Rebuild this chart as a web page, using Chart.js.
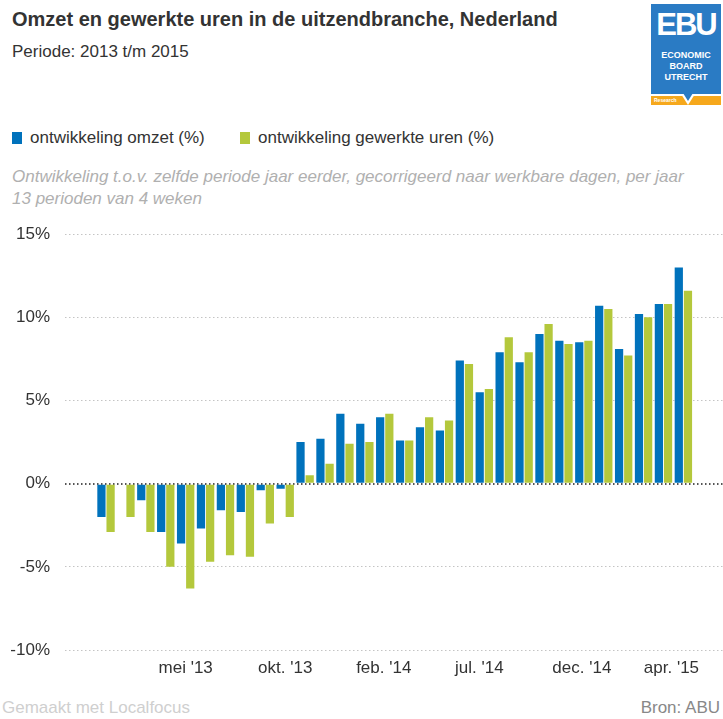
<!DOCTYPE html>
<html>
<head>
<meta charset="utf-8">
<script src="https://cdn.jsdelivr.net/npm/chart.js@4.4.0/dist/chart.umd.min.js"></script>
<style>
  body {
    margin: 0;
    width: 723px;
    height: 719px;
    background: #fff;
    position: relative;
    overflow: hidden;
    font-family: "Liberation Sans", Arial, sans-serif;
    color: #333;
  }
  .t { position: absolute; white-space: nowrap; line-height: 20px; }
  #title { left: 12px; top: 9px; font-size: 20px; font-weight: bold; }
  #period { left: 12px; top: 42px; font-size: 17px; }
  .sq { position: absolute; width: 10px; height: 12px; top: 132px; }
  .leg { top: 128px; font-size: 17px; }
  .note { left: 12px; font-size: 17px; font-style: italic; color: #b0b0b0; }
  #foot1 { left: 2px; top: 698px; font-size: 17px; color: #cfcfcf; }
  #foot2 { right: 3px; top: 698px; font-size: 17px; color: #888; }
  #chartBox { position: absolute; left: 0; top: 209px; width: 723px; height: 481px; }

  #logo { position: absolute; left: 651px; top: 4px; width: 70px; height: 100px; }
  #logo .blue { position: absolute; left: 0; top: 0; width: 70px; height: 90px; background: #2a7bc4; }
  #logo .orange { position: absolute; left: 0; top: 92px; width: 70px; height: 9px; background: #f6a81c; }
  #logo .big { position: absolute; left: 0; width: 70px; top: 6px; text-align: center; color: #fff;
               font-size: 31px; font-weight: bold; letter-spacing: -2px; line-height: 30px; }
  #logo .small { position: absolute; left: 0; width: 70px; text-align: center; color: #fff;
                 font-size: 9px; font-weight: bold; line-height: 10px; }
  #logo .res { position: absolute; left: 3px; top: 93px; color: #fff; font-size: 5px; font-weight: bold; line-height: 7px; }
  #logo .tailW { position: absolute; left: 30px; top: 90px; width: 0; height: 0;
                 border-left: 7px solid transparent; border-right: 7px solid transparent; border-top: 11px solid #fff; }
  #logo .tailB { position: absolute; left: 32px; top: 89px; width: 0; height: 0;
                 border-left: 5px solid transparent; border-right: 5px solid transparent; border-top: 8px solid #2a7bc4; }
</style>
</head>
<body>
<div class="t" id="title">Omzet en gewerkte uren in de uitzendbranche, Nederland</div>
<div class="t" id="period">Periode: 2013 t/m 2015</div>

<div id="logo">
  <div class="blue"></div>
  <div class="orange"></div>
  <div class="res">Research</div>
  <div class="tailW"></div>
  <div class="tailB"></div>
  <div class="big">EBU</div>
  <div class="small" style="top:46px">ECONOMIC</div>
  <div class="small" style="top:57px">BOARD</div>
  <div class="small" style="top:68px">UTRECHT</div>
</div>

<div class="sq" style="left:12px;background:#0072bc"></div>
<div class="t leg" style="left:30px">ontwikkeling omzet (%)</div>
<div class="sq" style="left:240px;background:#b4c83c"></div>
<div class="t leg" style="left:258px">ontwikkeling gewerkte uren (%)</div>

<div class="t note" style="top:167px">Ontwikkeling t.o.v. zelfde periode jaar eerder, gecorrigeerd naar werkbare dagen, per jaar</div>
<div class="t note" style="top:189px">13 perioden van 4 weken</div>

<div id="chartBox"><canvas id="chart"></canvas></div>

<div class="t" id="foot1">Gemaakt met Localfocus</div>
<div class="t" id="foot2">Bron: ABU</div>

<script>
// 4-weekly periods, 13 per year
const periods = [
  "2013 P1", "2013 P2", "2013 P3", "2013 P4", "2013 P5", "2013 P6", "2013 P7",
  "2013 P8", "2013 P9", "2013 P10", "2013 P11", "2013 P12", "2013 P13",
  "2014 P1", "2014 P2", "2014 P3", "2014 P4", "2014 P5", "2014 P6", "2014 P7",
  "2014 P8", "2014 P9", "2014 P10", "2014 P11", "2014 P12", "2014 P13",
  "2015 P1", "2015 P2", "2015 P3", "2015 P4",
];

const omzet = [
  -2.0, 0.0, -1.0, -2.9, -3.6, -2.7, -1.6, -1.7, -0.4, -0.3,
  2.5, 2.7, 4.2, 3.6, 4.0, 2.6, 3.4, 3.2, 7.4, 5.5,
  7.9, 7.3, 9.0, 8.6, 8.5, 10.7, 8.1, 10.2, 10.8, 13.0,
];

const uren = [
  -2.9, -2.0, -2.9, -5.0, -6.3, -4.7, -4.3, -4.4, -2.4, -2.0,
  0.5, 1.2, 2.4, 2.5, 4.2, 2.6, 4.0, 3.8, 7.2, 5.7,
  8.8, 7.9, 9.6, 8.4, 8.6, 10.5, 7.7, 10.0, 10.8, 11.6,
];

const monthLabels = ["mei '13", "okt. '13", "feb. '14", "jul. '14", "dec. '14", "apr. '15"];
const yTicks = [-10, -5, 0, 5, 10, 15];

// where the month labels fall, in period units
const monthAt = [4.0, 9.0, 13.95, 18.75, 23.9, 28.4];

const font = { family: "'Liberation Sans', Arial, sans-serif", size: 17 };

new Chart(document.getElementById("chart"), {
  type: "bar",
  data: {
    labels: periods,
    datasets: [
      {
        label: "ontwikkeling omzet (%)",
        data: omzet.map((v, i) => ({ x: i, y: v })),
        backgroundColor: "#0072bc",
      },
      {
        label: "ontwikkeling gewerkte uren (%)",
        data: uren.map((v, i) => ({ x: i, y: v })),
        backgroundColor: "#b4c83c",
      },
    ],
  },
  options: {
    responsive: true,
    maintainAspectRatio: false,
    animation: false,
    layout: { padding: { top: 13, left: 0, right: 0, bottom: 0 } },
    datasets: {
      bar: { categoryPercentage: 0.92, barPercentage: 0.9 },
    },
    plugins: {
      legend: { display: false },
      title: { display: false },
      tooltip: { enabled: false },
    },
    scales: {
      x: {
        type: "linear",
        offset: false,
        min: -2.06,
        max: 30.99,
        bounds: "data",
        grid: { display: false, drawTicks: false },
        border: { display: false },
        afterBuildTicks: (axis) => {
          axis.ticks = monthAt.map((v) => ({ value: v }));
        },
        afterFit: (axis) => {
          axis.height = 40;
        },
        ticks: {
          autoSkip: false,
          maxRotation: 0,
          padding: 8,
          color: "#333",
          font: font,
          callback: (value, index) => monthLabels[index],
        },
      },
      y: {
        min: -10,
        max: 15,
        afterBuildTicks: (axis) => {
          axis.ticks = yTicks.map((v) => ({ value: v }));
        },
        afterFit: (axis) => {
          axis.width = 65;
        },
        grid: {
          drawTicks: false,
          color: (c) => (c.tick && c.tick.value === 0 ? "#555" : "#c4c4c4"),
          lineWidth: (c) => (c.tick && c.tick.value === 0 ? 2 : 1),
        },
        border: { display: false, dash: [1.5, 2.5] },
        ticks: {
          padding: 15,
          color: "#333",
          font: font,
          callback: (v) => v + "%",
        },
      },
    },
  },
});
</script>
</body>
</html>
